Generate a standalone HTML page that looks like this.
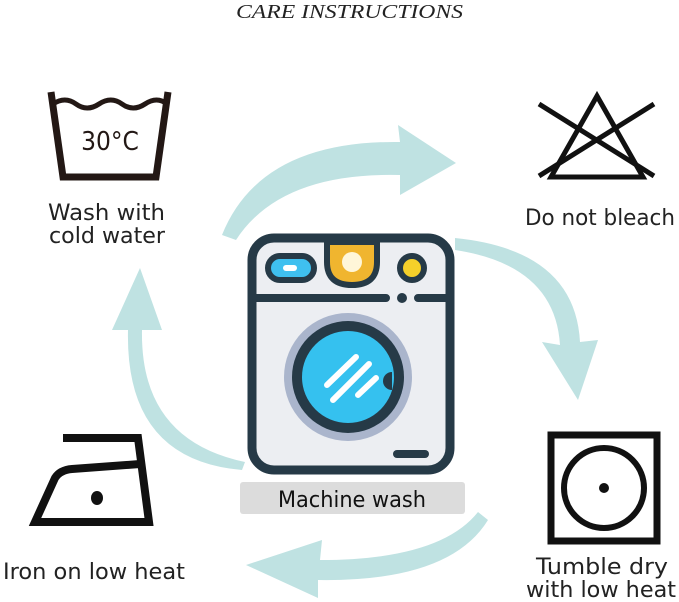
<!DOCTYPE html>
<html><head><style>
body{margin:0;width:679px;height:602px;background:#fff;overflow:hidden;font-family:"DejaVu Sans","Liberation Sans",sans-serif}
svg{position:absolute;left:0;top:0}
</style></head><body>
<svg width="679" height="602" viewBox="0 0 679 602" font-family="DejaVu Sans, Liberation Sans, sans-serif">
<text x="236" y="18" font-family="Liberation Serif,serif" font-style="italic" font-size="20" fill="#222" textLength="227" lengthAdjust="spacingAndGlyphs">CARE INSTRUCTIONS</text>
<g fill="#bfe2e2">
<path d="M222,235 Q260,140 400,142 L398,125 L456,163 L400,195 L400,175 Q280,172 236,240 Z"/>
<path d="M455,250 Q555,265 560,345 L542,342 L578,400 L598,340 L580,342 Q575,250 455,238 Z"/>
<path d="M478,512 Q440,560 320,560 L322,540 L246,565 L318,598 L318,580 Q450,582 488,520 Z"/>
<path d="M245,462 Q140,440 142,330 L162,330 L140,268 L112,330 L128,330 Q125,460 242,470 Z"/>
</g>
<g fill="none" stroke="#231815" stroke-width="7">
<path d="M51,92 L63,177 L156,177 L168,92"/>
<path d="M53,104 q12,-8 23,0 t23,0 t23,0 t23,0 t22,0" stroke-width="5"/>
</g>
<text x="110" y="150" font-size="26" fill="#231815" text-anchor="middle" font-family="DejaVu Sans Condensed,sans-serif">30°C</text>
<text x="48" y="220" font-size="22" fill="#222" textLength="117" lengthAdjust="spacingAndGlyphs">Wash with</text>
<text x="49" y="243" font-size="22" fill="#222" textLength="116" lengthAdjust="spacingAndGlyphs">cold water</text>
<g fill="none" stroke="#111" stroke-width="5">
<path d="M597,96 L551,177 L643,177 Z"/>
<path d="M539,104 L654,176 M654,104 L539,176"/>
</g>
<text x="525" y="225" font-size="22" fill="#222" textLength="150" lengthAdjust="spacingAndGlyphs">Do not bleach</text>
<rect x="551" y="435" width="106" height="106" fill="none" stroke="#111" stroke-width="7"/>
<circle cx="604" cy="488" r="40" fill="none" stroke="#111" stroke-width="6"/>
<circle cx="604" cy="488" r="5" fill="#111"/>
<text x="536" y="574" font-size="22" fill="#222" textLength="132" lengthAdjust="spacingAndGlyphs">Tumble dry</text>
<text x="526" y="597" font-size="22" fill="#222" textLength="150" lengthAdjust="spacingAndGlyphs">with low heat</text>
<g fill="none" stroke="#111" stroke-width="8" stroke-linejoin="miter">
<path d="M63,438 L138,438 L149,522 L35,522 L55,478 Q60,470 72,469 L140,464"/>
</g>
<ellipse cx="97" cy="498" rx="6" ry="7" fill="#111"/>
<text x="3" y="579" font-size="22" fill="#222" textLength="182" lengthAdjust="spacingAndGlyphs">Iron on low heat</text>
<rect x="252" y="238" width="198" height="232" rx="22" fill="#eceef2" stroke="#263a47" stroke-width="9"/>
<path d="M256,298 L386,298 M418,298 L446,298" stroke="#263a47" stroke-width="8" stroke-linecap="round"/>
<circle cx="402" cy="298" r="5" fill="#263a47"/>
<rect x="268" y="256" width="46" height="24" rx="12" fill="#3fc0ef" stroke="#263a47" stroke-width="6"/>
<rect x="283" y="265" width="14" height="6" rx="3" fill="#fff"/>
<path d="M327,242 L377,242 L377,262 Q377,285 352,285 Q327,285 327,262 Z" fill="#f0b52f" stroke="#263a47" stroke-width="6"/>
<circle cx="352" cy="262" r="10" fill="#fff6d8"/>
<circle cx="412" cy="268" r="12" fill="#f5d02a" stroke="#263a47" stroke-width="6"/>
<circle cx="348" cy="377" r="64" fill="#aab5cc"/>
<circle cx="348" cy="377" r="56" fill="#263a47"/>
<circle cx="348" cy="377" r="46" fill="#35c1ef"/>
<path d="M392,372 a9,9 0 0,0 0,18 Z" fill="#263a47"/>
<g stroke="#fff" stroke-width="6" stroke-linecap="round">
<path d="M327,385 L356,357 M333,400 L369,364 M358,395 L376,378"/>
</g>
<rect x="393" y="450" width="36" height="8" rx="4" fill="#263a47"/>
<rect x="240" y="482" width="225" height="32" rx="3" fill="#dcdcdc"/>
<text x="278" y="507" font-size="22" fill="#111" textLength="148" lengthAdjust="spacingAndGlyphs">Machine wash</text>
</svg>
</body></html>
